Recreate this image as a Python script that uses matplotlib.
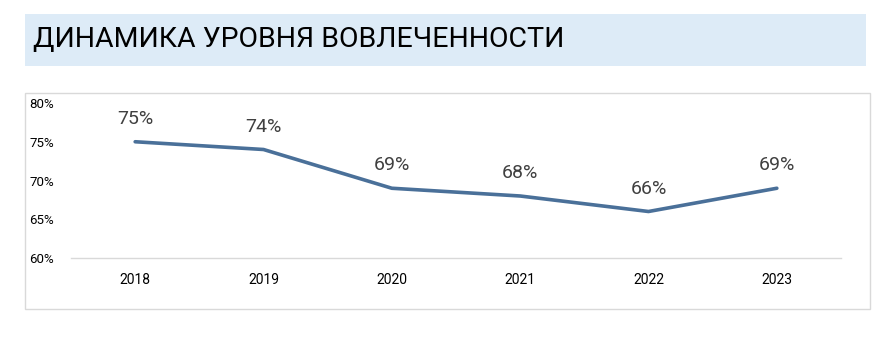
import matplotlib
matplotlib.use("Agg")
import matplotlib.pyplot as plt
from matplotlib.patches import Rectangle

plt.rcParams['font.family'] = ['Roboto', 'Noto Sans', 'DejaVu Sans']

title = "ДИНАМИКА УРОВНЯ ВОВЛЕЧЕННОСТИ"
years = ["2018", "2019", "2020", "2021", "2022", "2023"]
values = [0.75, 0.74, 0.69, 0.68, 0.66, 0.69]
yticks = [0.60, 0.65, 0.70, 0.75, 0.80]

W, H = 891, 337
fig = plt.figure(figsize=(W / 100, H / 100), dpi=100)

def fx(px):
    return px / W

def fy(py):
    return 1 - py / H

# title banner
fig.patches.append(Rectangle((fx(25), fy(66)), fx(866) - fx(25), fy(14) - fy(66),
                             transform=fig.transFigure, facecolor="#DDEBF7",
                             edgecolor="none", zorder=0))
fig.text(fx(33), fy(40), title, fontsize=20.5, color="black", va="center", ha="left")

# chart box
fig.patches.append(Rectangle((fx(25), fy(309)), fx(870) - fx(25), fy(93) - fy(309),
                             transform=fig.transFigure, facecolor="none",
                             edgecolor="#D9D9D9", linewidth=1, zorder=0))

ax = fig.add_axes([fx(71), fy(258), fx(841) - fx(71), fy(103) - fy(258)])
ax.set_facecolor("none")
ax.set_zorder(2)
x = list(range(len(years)))
ax.plot(x, values, color="#4A7099", linewidth=2.6, solid_capstyle="round",
        solid_joinstyle="round")
for xi, v in zip(x, values):
    ax.annotate(f"{round(v * 100)}%", (xi, v), xytext=(0, 10), textcoords="offset points",
                ha="center", va="bottom", fontsize=14, color="#404040")

ax.set_xlim(-0.5, len(years) - 0.5)
ax.set_ylim(0.60, 0.80)
ax.set_xticks(x)
ax.set_xticklabels(years, fontsize=10, color="black")
ax.set_yticks(yticks)
ax.set_yticklabels([f"{round(t * 100)}%" for t in yticks], fontsize=9.5, color="black")
ax.tick_params(axis="x", length=0, pad=11)
ax.tick_params(axis="y", length=0, pad=12)
for s in ["top", "left", "right"]:
    ax.spines[s].set_visible(False)
ax.spines["bottom"].set_color("#D9D9D9")
ax.spines["bottom"].set_linewidth(1)

fig.savefig("out.png", dpi=100)
